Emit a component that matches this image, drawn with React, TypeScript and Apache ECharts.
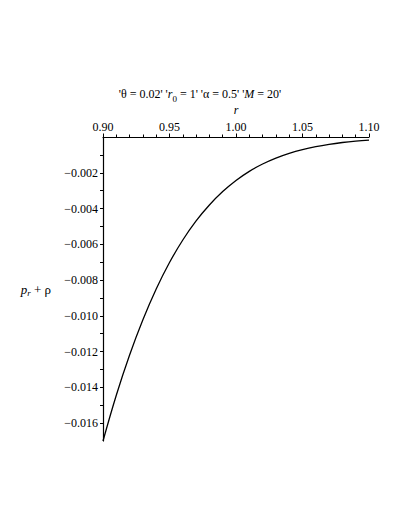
import React, { useEffect, useRef } from "react";
import * as echarts from "echarts";

const rValues = [0.9, 0.91, 0.92, 0.93, 0.94, 0.95, 0.96, 0.97, 0.98, 0.99, 1.0, 1.01, 1.02, 1.03, 1.04, 1.05, 1.06, 1.07, 1.08, 1.09, 1.1];
const prRho = [-0.0170, -0.01444, -0.01219, -0.01022, -0.00850, -0.00702, -0.00576, -0.00469, -0.00380, -0.00305, -0.00243, -0.00192, -0.00151, -0.00118, -0.000915, -0.000704, -0.000538, -0.000408, -0.000307, -0.00023, -0.000171];
const xTickLabels = ["0.90", "0.95", "1.00", "1.05", "1.10"];
const titleText = "'θ = 0.02' '{i|r}{sub|0} = 1' 'α = 0.5' '{i|M} = 20'";
const xName = "r";
const yName = "{i|p}{isub|r}{n| + ρ}";

const FONT = "Liberation Serif, Times New Roman, serif";

export default function App() {
  const ref = useRef<HTMLDivElement>(null);
  useEffect(() => {
    if (!ref.current) return;
    const chart = echarts.init(ref.current, null, { renderer: "svg" });
    const data = rValues.map((r, i) => [r, prRho[i]]);
    chart.setOption({
      animation: false,
      backgroundColor: "#fff",
      textStyle: { fontFamily: FONT, color: "#000" },
      grid: { left: 103, right: 40, top: 137, bottom: 88 },
      graphic: [
        {
          type: "text",
          x: 200,
          y: 94,
          style: {
            text: titleText,
            align: "center",
            verticalAlign: "middle",
            fontFamily: FONT,
            fontSize: 12,
            fill: "#000",
            rich: {
              i: { fontStyle: "italic", fontFamily: FONT, fontSize: 12, color: "#000" },
              sub: { fontSize: 9, fontFamily: FONT, padding: [9, 0, 0, 0], color: "#000" },
            },
          },
        },
      ],
      xAxis: {
        type: "value",
        position: "top",
        min: 0.9,
        max: 1.1,
        interval: 0.05,
        name: xName,
        nameLocation: "middle",
        nameGap: 16,
        nameTextStyle: { fontStyle: "italic", fontFamily: FONT, fontSize: 12, color: "#000" },
        axisLine: { show: true, lineStyle: { color: "#000", width: 1.2 } },
        axisTick: { show: true, inside: false, length: 3.5, lineStyle: { color: "#000", width: 1 } },
        minorTick: { show: true, splitNumber: 5, length: 2.5, lineStyle: { color: "#000", width: 1 } },
        splitLine: { show: false },
        axisLabel: {
          margin: 4,
          fontFamily: FONT,
          fontSize: 12,
          color: "#000",
          formatter: (v: number) => {
            const idx = Math.round((v - 0.9) / 0.05);
            return xTickLabels[idx] ?? "";
          },
        },
      },
      yAxis: {
        type: "value",
        min: -0.017,
        max: 0,
        interval: 0.001,
        name: yName,
        nameLocation: "middle",
        nameRotate: 0,
        nameGap: 52,
        nameTextStyle: {
          fontFamily: FONT,
          fontSize: 12,
          color: "#000",
          align: "right",
          rich: {
            i: { fontStyle: "italic", fontFamily: FONT, fontSize: 13, color: "#000" },
            isub: { fontStyle: "italic", fontFamily: FONT, fontSize: 9, padding: [7, 0, 0, 0], color: "#000" },
            n: { fontFamily: FONT, fontSize: 13, color: "#000" },
          },
        },
        axisLine: { show: true, onZero: false, lineStyle: { color: "#000", width: 1.2 } },
        axisTick: { show: true, inside: false, length: 3, lineStyle: { color: "#000", width: 1 } },
        splitLine: { show: false },
        axisLabel: {
          margin: 5,
          fontFamily: FONT,
          fontSize: 12,
          color: "#000",
          showMinLabel: false,
          showMaxLabel: false,
          formatter: (v: number) => {
            const k = Math.round(-v * 1000);
            if (k === 0 || k % 2 !== 0) return "";
            return "\u2212" + (k / 1000).toFixed(3);
          },
        },
      },
      series: [
        {
          type: "line",
          data,
          showSymbol: false,
          smooth: 0.4,
          lineStyle: { color: "#000", width: 1.3 },
        },
      ],
    });
    return () => chart.dispose();
  }, []);
  return (
    <div
      ref={ref}
      style={{ position: "absolute", left: 0, top: 0, width: 409, height: 529, background: "#fff" }}
    />
  );
}
